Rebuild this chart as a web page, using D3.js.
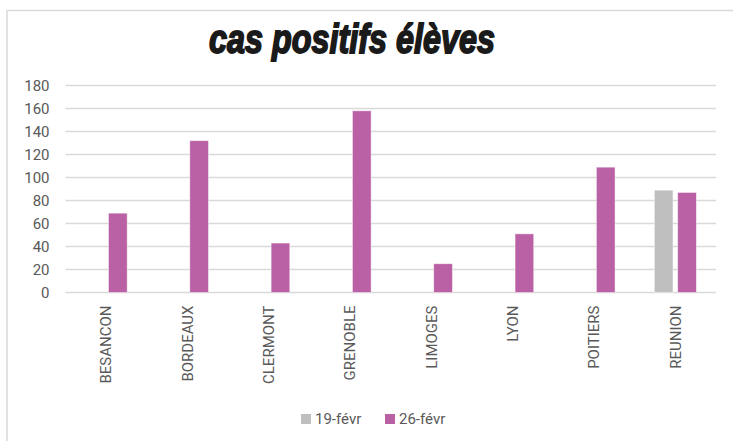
<!DOCTYPE html>
<html>
<head>
<meta charset="utf-8">
<script src="https://cdn.jsdelivr.net/npm/d3@7"></script>
<style>
  body { margin: 0; background: #fff; }
  svg { display: block; }
</style>
</head>
<body>
<svg></svg>
<script>
var width = 733;
var height = 441;

// data
var villes = ['BESANCON', 'BORDEAUX', 'CLERMONT', 'GRENOBLE', 'LIMOGES', 'LYON', 'POITIERS', 'REUNION'];
var series = ['19-févr', '26-févr'];
var fev19 = [null, null, null, null, null, null, null, 89];
var fev26 = [69, 132, 43, 158, 25, 51, 109, 87];
var yTicks = [0, 20, 40, 60, 80, 100, 120, 140, 160, 180];
var colors = ['#bfbfbf', '#ba61a5'];

var margin = {top: 85.5, right: 17, bottom: 148, left: 65.5};

var svg = d3.select('svg')
    .attr('width', width)
    .attr('height', height);

// chart frame (only top and left edges visible in the picture)
svg.append('path')
    .attr('d', 'M7,441 V10.5 H733')
    .attr('fill', 'none')
    .attr('stroke', '#d9d9d9')
    .attr('stroke-width', 1.5);

// title
svg.append('text')
    .attr('x', 209)
    .attr('y', 53)
    .attr('textLength', 286)
    .attr('lengthAdjust', 'spacingAndGlyphs')
    .style('font-family', '"Liberation Sans Narrow", "Liberation Sans", sans-serif')
    .style('font-weight', 'bold')
    .style('font-style', 'italic')
    .style('font-size', '40px')
    .attr('fill', '#1a1a1a')
    .attr('stroke', '#1a1a1a')
    .attr('stroke-width', 1.8)
    .text('cas positifs élèves');

var chart = svg.append('g')
    .attr('transform', `translate(${margin.left}, ${margin.top})`);

var innerW = width - margin.left - margin.right;
var innerH = 292.5 - margin.top;

var x0 = d3.scaleBand()
    .domain(villes)
    .range([0, innerW])
    .paddingInner(0.483)
    .paddingOuter(0.2415);

var x1 = d3.scaleBand()
    .domain(series)
    .range([0, x0.bandwidth()])
    .paddingInner(0.2);

var y = d3.scaleLinear()
    .domain([0, 180])
    .range([innerH, 0]);

// gridlines
chart.selectAll('.grid')
    .data(yTicks)
    .enter()
    .append('line')
        .classed('grid', true)
        .attr('x1', 0)
        .attr('x2', innerW)
        .attr('y1', d => y(d))
        .attr('y2', d => y(d))
        .attr('stroke', '#d9d9d9')
        .attr('stroke-width', 1.5);

// y axis labels
var yAxis = chart.append('g')
    .call(d3.axisLeft(y).tickValues(yTicks).tickSize(0).tickPadding(16));
yAxis.select('.domain').remove();
yAxis.selectAll('text')
    .style('font-family', 'Roboto, "Liberation Sans", sans-serif')
    .style('font-size', '15px')
    .attr('fill', '#595959');

// x axis labels
var xAxis = chart.append('g')
    .attr('transform', `translate(0, ${innerH})`)
    .call(d3.axisBottom(x0).tickSize(0));
xAxis.select('.domain').remove();
xAxis.selectAll('text')
    .attr('transform', 'rotate(-90)')
    .attr('x', -13)
    .attr('y', 0)
    .attr('dy', '0.35em')
    .attr('text-anchor', 'end')
    .style('font-family', 'Roboto, "Liberation Sans", sans-serif')
    .style('font-size', '15px')
    .attr('fill', '#595959');

// bars
var rows = villes.map((v, i) => ({ville: v, values: [fev19[i], fev26[i]]}));

var groups = chart.selectAll('.ville')
    .data(rows)
    .enter()
    .append('g')
        .classed('ville', true)
        .attr('transform', d => `translate(${x0(d.ville)}, 0)`);

groups.selectAll('rect')
    .data(d => d.values.map((v, j) => ({serie: series[j], value: v, color: colors[j]})).filter(d => d.value != null))
    .enter()
    .append('rect')
        .attr('x', d => x1(d.serie))
        .attr('width', x1.bandwidth())
        .attr('y', d => y(d.value))
        .attr('height', d => innerH - y(d.value))
        .attr('fill', d => d.color)
        .attr('stroke', '#fff')
        .attr('stroke-opacity', 0.6)
        .attr('stroke-width', 0.75);

// legend
var legend = svg.append('g')
    .attr('transform', 'translate(301, 419)');

var legendX = [0, 84];
series.forEach((s, i) => {
    var item = legend.append('g').attr('transform', `translate(${legendX[i]}, 0)`);
    item.append('rect')
        .attr('x', 0)
        .attr('y', -5)
        .attr('width', 10)
        .attr('height', 10)
        .attr('fill', colors[i]);
    item.append('text')
        .attr('x', 14)
        .attr('y', 0)
        .attr('dy', '0.35em')
        .style('font-family', 'Roboto, "Liberation Sans", sans-serif')
        .style('font-size', '15px')
        .attr('fill', '#595959')
        .text(s);
});
</script>
</body>
</html>
